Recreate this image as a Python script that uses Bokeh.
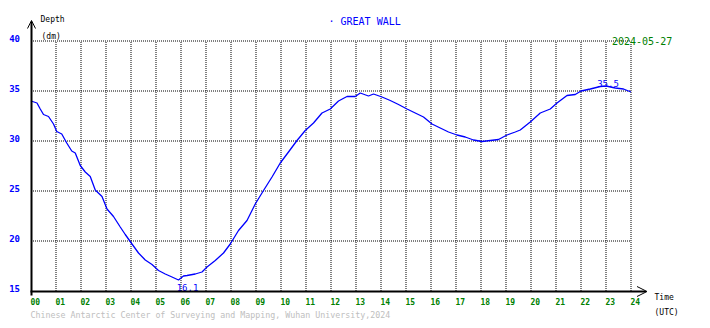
import numpy as np
from bokeh.plotting import figure
from bokeh.models import Range1d, LinearAxis, FixedTicker, Arrow, OpenHead, Label
from bokeh.embed import file_html
from bokeh.resources import INLINE
from bokeh.core.properties import value

# ---------------- data ----------------
station = "GREAT WALL"
date_text = "2024-05-27"
y_title = "Depth"
y_unit = "(dm)"
x_title = "Time"
x_unit = "(UTC)"
footer_text = "Chinese Antarctic Center of Surveying and Mapping, Wuhan University,2024"

hour_ticks = [0, 1, 2, 3, 4, 5, 6, 7, 8, 9, 10, 11, 12, 13, 14, 15, 16, 17, 18, 19, 20, 21, 22, 23, 24]
hour_labels = ["00", "01", "02", "03", "04", "05", "06", "07", "08", "09", "10", "11", "12",
               "13", "14", "15", "16", "17", "18", "19", "20", "21", "22", "23", "24"]
depth_ticks = [15, 20, 25, 30, 35, 40]
depth_labels = ["15", "20", "25", "30", "35", "40"]

time_h = [0.0, 0.24, 0.37, 0.5, 0.7, 0.9, 1.03, 1.23, 1.43, 1.63, 1.77, 1.97, 2.17, 2.37, 2.57,
          2.84, 3.04, 3.3, 3.57, 3.77, 4.04, 4.3, 4.57, 4.84, 5.1, 5.37, 5.64, 5.9, 6.1, 6.24,
          6.57, 6.84, 7.04, 7.37, 7.7, 7.97, 8.3, 8.64, 8.97, 9.3, 9.64, 9.97, 10.3, 10.64,
          10.97, 11.3, 11.64, 11.97, 12.3, 12.64, 12.97, 13.17, 13.5, 13.7, 14.04, 14.37, 14.7,
          15.04, 15.37, 15.7, 16.04, 16.37, 16.7, 17.04, 17.37, 17.7, 18.04, 18.37, 18.7, 19.04,
          19.37, 19.57, 19.97, 20.37, 20.77, 21.04, 21.44, 21.77, 22.0, 22.37, 22.77, 23.0,
          23.37, 23.7, 24.0]
depth_dm = [34.0, 33.8, 33.2, 32.65, 32.45, 31.7, 30.95, 30.7, 29.8, 29.0, 28.8, 27.55, 26.9,
            26.45, 25.1, 24.45, 23.2, 22.45, 21.4, 20.65, 19.7, 18.8, 18.1, 17.65, 17.05, 16.7,
            16.4, 16.1, 16.5, 16.55, 16.7, 16.9, 17.4, 18.05, 18.8, 19.7, 21.05, 22.05, 23.7,
            25.05, 26.4, 27.8, 28.9, 30.05, 31.05, 31.8, 32.8, 33.2, 34.0, 34.45, 34.45, 34.8,
            34.5, 34.7, 34.4, 34.05, 33.65, 33.2, 32.8, 32.4, 31.7, 31.3, 30.9, 30.6, 30.4, 30.1,
            29.95, 30.05, 30.15, 30.6, 30.9, 31.1, 31.9, 32.8, 33.2, 33.8, 34.55, 34.65, 35.0,
            35.2, 35.45, 35.5, 35.3, 35.2, 34.9]

# ---------------- styling ----------------
BLUE = "#0000ff"
GREEN = "#008000"
MONO = "DejaVu Sans Mono"
W, H = 694, 320
OX, OY = 30.5, 290.5      # canvas pixel of (hour 0, depth 15)
PXH, PXD = 25.0, 10.0     # pixels per hour / per dm


def hx(px):
    return (px - OX) / PXH


def dy(py):
    return 15 + (OY - py) / PXD


p = figure(width=W, height=H, x_range=Range1d(hx(0), hx(W)), y_range=Range1d(dy(H), dy(0)),
           x_axis_type=None, y_axis_type=None, output_backend="svg", toolbar_location=None,
           min_border_left=0, min_border_right=0, min_border_top=0, min_border_bottom=0)
p.title.visible = False
p.outline_line_color = None
p.background_fill_color = "white"
p.border_fill_color = "white"

# tick-label axes (fixed inside the frame, on shifted ranges so labels sit like the original)
p.extra_x_ranges = {"xlab": Range1d(hx(0) - 0.17, hx(W) - 0.17)}
p.extra_y_ranges = {"ylab": Range1d(dy(H) - 0.27, dy(0) - 0.27)}

xaxis = LinearAxis(x_range_name="xlab", fixed_location=depth_ticks[0],
                   ticker=FixedTicker(ticks=hour_ticks),
                   major_label_overrides={t: l for t, l in zip(hour_ticks, hour_labels)},
                   axis_line_color=None, major_tick_line_color=None, minor_tick_line_color=None,
                   major_tick_out=0, major_tick_in=0,
                   major_label_text_color=GREEN, major_label_text_font=MONO,
                   major_label_text_font_style="bold", major_label_text_font_size="8px",
                   major_label_standoff=7)
p.add_layout(xaxis, "below")

yaxis = LinearAxis(y_range_name="ylab", fixed_location=hour_ticks[0],
                   ticker=FixedTicker(ticks=depth_ticks),
                   major_label_overrides={t: l for t, l in zip(depth_ticks, depth_labels)},
                   axis_line_color=None, major_tick_line_color=None, minor_tick_line_color=None,
                   major_tick_out=0, major_tick_in=0,
                   major_label_text_color=BLUE, major_label_text_font=MONO,
                   major_label_text_font_style="bold", major_label_text_font_size="9px",
                   major_label_standoff=11)
p.add_layout(yaxis, "left")

# dotted grid box
nv = len(hour_ticks) - 1
nh = len(depth_ticks) - 1
p.segment(x0=hour_ticks[1:], y0=[depth_ticks[0]] * nv, x1=hour_ticks[1:], y1=[depth_ticks[-1]] * nv,
          line_color="black", line_width=1, line_dash="1 1")
p.segment(x0=[hour_ticks[0]] * nh, y0=depth_ticks[1:], x1=[hour_ticks[-1]] * nh, y1=depth_ticks[1:],
          line_color="black", line_width=1, line_dash="1 1")

# data line
p.line(time_h, depth_dm, line_color=BLUE, line_width=1.3)

# extreme labels
i_max = int(np.argmax(depth_dm))
i_min = int(np.argmin(depth_dm))
p.text(x=[time_h[i_max]], y=[depth_dm[i_max]], text=[f"{depth_dm[i_max]:.1f}"],
       text_color=BLUE, text_font=value(MONO), text_font_size="9px",
       text_align="center", text_baseline="alphabetic", x_offset=2, y_offset=-3)
p.text(x=[time_h[i_min]], y=[depth_dm[i_min]], text=[f"{depth_dm[i_min]:.1f}"],
       text_color=BLUE, text_font=value(MONO), text_font_size="9px",
       text_align="center", text_baseline="alphabetic", x_offset=9, y_offset=7)

# axis arrows
p.add_layout(Arrow(end=OpenHead(size=10, line_width=1, line_color="black"),
                   x_start=hx(30), y_start=dy(291), x_end=hx(646.5), y_end=dy(291),
                   line_width=2, line_color="black"))
p.add_layout(Arrow(end=OpenHead(size=8, line_width=1, line_color="black"),
                   x_start=hx(31), y_start=dy(295), x_end=hx(31), y_end=dy(20),
                   line_width=2, line_color="black"))


# texts
def add_label(txt, px, py, color="black", size="8px", font=MONO, align="left"):
    p.add_layout(Label(x=hx(px), y=dy(py), text=txt, text_color=color,
                       text_font=font, text_font_size=size, text_align=align,
                       text_baseline="alphabetic"))


add_label(y_title, 40, 18.5)
add_label(y_unit, 41, 35.5)
add_label("\u00b7 " + station, 328, 20.7, color=BLUE, size="10px")
add_label(date_text, 611.5, 40.7, color=GREEN, size="10px")
add_label(x_title, 654, 296.7)
add_label(x_unit, 654, 311.7)
add_label(footer_text, 30, 314.5, color="#bebebe", size="8.3px")

open("out.html", "w").write(file_html(p, INLINE))
